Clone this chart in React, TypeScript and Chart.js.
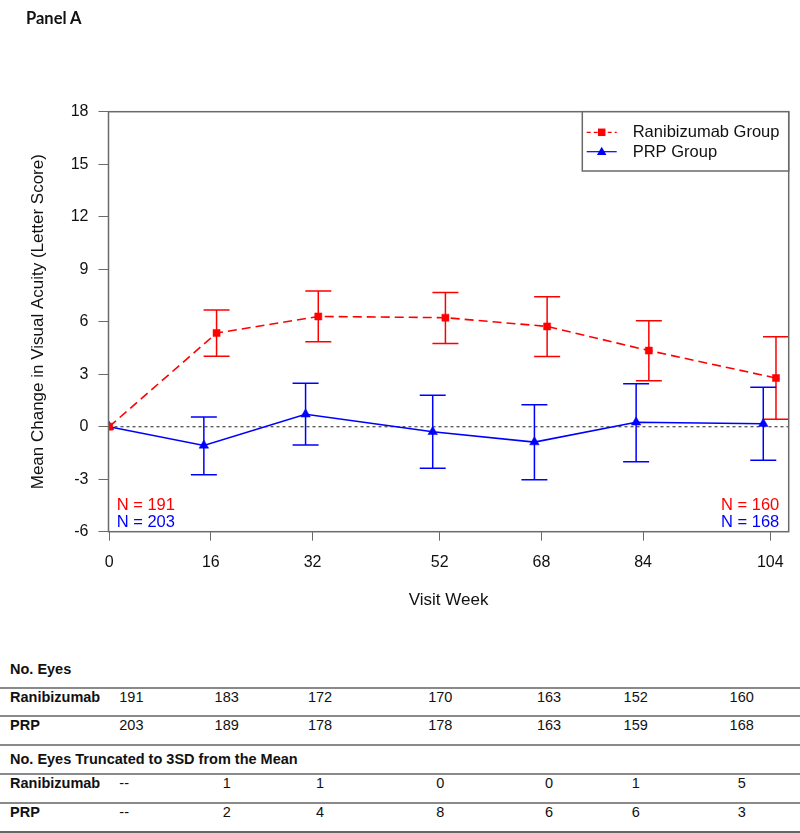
import React, { useEffect, useRef } from 'react';
import { Chart, registerables } from 'chart.js';

Chart.register(...registerables);

// ---------- data ----------
const weeks = [0, 16, 32, 52, 68, 84, 104];
const yTicks = [-6, -3, 0, 3, 6, 9, 12, 15, 18];

const ranMean = [0, 5.35, 6.3, 6.23, 5.73, 4.35, 2.78];
const ranUpper = [0, 6.67, 7.75, 7.67, 7.43, 6.05, 5.14];
const ranLower = [0, 4.03, 4.85, 4.75, 4.01, 2.62, 0.43];

const prpMean = [0, -1.07, 0.71, -0.29, -0.88, 0.25, 0.17];
const prpUpper = [0, 0.56, 2.49, 1.8, 1.26, 2.45, 2.26];
const prpLower = [0, -2.75, -1.05, -2.37, -3.03, -2.0, -1.92];

const ranN = [191, 183, 172, 170, 163, 152, 160];
const prpN = [203, 189, 178, 178, 163, 159, 168];
const ranTrunc: (number | null)[] = [null, 1, 1, 0, 0, 1, 5];
const prpTrunc: (number | null)[] = [null, 2, 4, 8, 6, 6, 3];

const seriesNames = ['Ranibizumab Group', 'PRP Group'];
const rowNames = ['Ranibizumab', 'PRP'];

// ---------- style / layout constants ----------
const FONT = "'Liberation Sans', Arial, Helvetica, sans-serif";
const RED = '#ff0000';
const BLUE = '#0000ff';
const AXIS = '#6a6a6a';
const RAN_DODGE = 0.9;
const PRP_DODGE = -1.1;
const CAP = 13;

const xOf = (w: number, d: number) => (w === 0 ? 0 : w + d);

function drawSquare(ctx: CanvasRenderingContext2D, x: number, y: number, s: number, c: string) {
  ctx.fillStyle = c;
  ctx.fillRect(x - s / 2, y - s / 2, s, s);
}
function drawTri(ctx: CanvasRenderingContext2D, x: number, y: number, r: number, c: string) {
  ctx.fillStyle = c;
  ctx.beginPath();
  ctx.moveTo(x, y - r);
  ctx.lineTo(x + r * 0.866, y + r * 0.5);
  ctx.lineTo(x - r * 0.866, y + r * 0.5);
  ctx.closePath();
  ctx.fill();
}

const overlay = {
  id: 'overlay',
  beforeDatasetsDraw(chart: any) {
    const { ctx, chartArea, scales } = chart;
    const { left, right } = chartArea;
    const x = scales.x;
    const y = scales.y;
    ctx.save();
    // zero reference line
    ctx.strokeStyle = '#555';
    ctx.lineWidth = 1.3;
    ctx.setLineDash([3, 3]);
    const y0 = y.getPixelForValue(0);
    ctx.beginPath();
    ctx.moveTo(left, y0);
    ctx.lineTo(right, y0);
    ctx.stroke();
    ctx.setLineDash([]);
    // error bars
    const bars = [
      { up: ranUpper, lo: ranLower, d: RAN_DODGE, c: RED },
      { up: prpUpper, lo: prpLower, d: PRP_DODGE, c: BLUE },
    ];
    bars.forEach((b) => {
      ctx.strokeStyle = b.c;
      ctx.lineWidth = 1.5;
      weeks.forEach((w, i) => {
        if (b.up[i] === b.lo[i]) return;
        const px = x.getPixelForValue(xOf(w, b.d));
        const pu = y.getPixelForValue(b.up[i]);
        const pl = y.getPixelForValue(b.lo[i]);
        ctx.beginPath();
        ctx.moveTo(px, pu);
        ctx.lineTo(px, pl);
        ctx.moveTo(px - CAP, pu);
        ctx.lineTo(px + CAP, pu);
        ctx.moveTo(px - CAP, pl);
        ctx.lineTo(px + CAP, pl);
        ctx.stroke();
      });
    });
    ctx.restore();
  },
  afterDraw(chart: any) {
    const { ctx, chartArea } = chart;
    const { left, right, top, bottom } = chartArea;
    ctx.save();
    // plot box
    ctx.strokeStyle = AXIS;
    ctx.lineWidth = 1.5;
    ctx.strokeRect(left, top, right - left, bottom - top);
    // legend
    const lx = right - 206.4;
    const lh = 59.3;
    ctx.fillStyle = '#fff';
    ctx.fillRect(lx, top, right - lx, lh);
    ctx.strokeRect(lx, top, right - lx, lh);
    const rows = [
      { y: top + 20.6, c: RED, dash: [4, 3], m: 'sq' },
      { y: top + 40, c: BLUE, dash: [], m: 'tri' },
    ];
    rows.forEach((r, i) => {
      ctx.strokeStyle = r.c;
      ctx.lineWidth = 1.2;
      ctx.setLineDash(r.dash);
      ctx.beginPath();
      ctx.moveTo(lx + 4.4, r.y);
      ctx.lineTo(lx + 34.4, r.y);
      ctx.stroke();
      ctx.setLineDash([]);
      if (r.m === 'sq') drawSquare(ctx, lx + 19.4, r.y, 7.5, r.c);
      else drawTri(ctx, lx + 19.4, r.y + 0.5, 5.5, r.c);
      ctx.fillStyle = '#111';
      ctx.font = `16.5px ${FONT}`;
      ctx.textAlign = 'left';
      ctx.textBaseline = 'middle';
      ctx.fillText(seriesNames[i], lx + 50.4, r.y + 0.5);
    });
    // N labels
    ctx.font = `16.5px ${FONT}`;
    ctx.textBaseline = 'middle';
    const last = weeks.length - 1;
    ctx.textAlign = 'left';
    ctx.fillStyle = RED;
    ctx.fillText(`N = ${ranN[0]}`, left + 8.2, bottom - 26.7);
    ctx.fillStyle = BLUE;
    ctx.fillText(`N = ${prpN[0]}`, left + 8.2, bottom - 9);
    ctx.textAlign = 'right';
    ctx.fillStyle = RED;
    ctx.fillText(`N = ${ranN[last]}`, right - 9.4, bottom - 26.7);
    ctx.fillStyle = BLUE;
    ctx.fillText(`N = ${prpN[last]}`, right - 9.4, bottom - 9);
    ctx.restore();
  },
};

// ---------- table layout ----------
const COLS = [119.3, 226.7, 320, 440.3, 549, 635.7, 741.7];
const LINE_YS = [687.7, 715.7, 745, 774, 803.3];

function Cell({ x, y, text, bold, align }: { x: number; y: number; text: string; bold?: boolean; align?: 'left' | 'center' }) {
  const style: React.CSSProperties = {
    position: 'absolute',
    top: y - 9,
    left: x,
    lineHeight: '18px',
    fontSize: 14.5,
    fontWeight: bold ? 700 : 400,
    whiteSpace: 'nowrap',
    color: '#111',
    transform: align === 'center' ? 'translateX(-50%)' : undefined,
  };
  return <div style={style}>{text}</div>;
}

function NumRow({ y, label, values }: { y: number; label: string; values: (number | null)[] }) {
  return (
    <>
      <Cell x={10} y={y} text={label} bold />
      {values.map((v, i) => (
        <Cell key={i} x={COLS[i]} y={y} text={v === null ? '--' : String(v)} align={i === 0 ? 'left' : 'center'} />
      ))}
    </>
  );
}

export default function App() {
  const ref = useRef<HTMLCanvasElement>(null);

  useEffect(() => {
    if (!ref.current) return;
    Chart.defaults.font.family = FONT;
    const chart = new Chart(ref.current, {
      type: 'scatter',
      data: {
        datasets: [
          {
            label: seriesNames[0],
            data: weeks.map((w, i) => ({ x: xOf(w, RAN_DODGE), y: ranMean[i] })),
            showLine: true,
            borderColor: RED,
            backgroundColor: RED,
            borderWidth: 1.6,
            borderDash: [9, 5],
            pointStyle: 'rect',
            pointRadius: 5,
            pointBorderWidth: 0.5,
            pointBackgroundColor: RED,
            pointBorderColor: RED,
          },
          {
            label: seriesNames[1],
            data: weeks.map((w, i) => ({ x: xOf(w, PRP_DODGE), y: prpMean[i] })),
            showLine: true,
            borderColor: BLUE,
            backgroundColor: BLUE,
            borderWidth: 1.6,
            pointStyle: 'triangle',
            pointRadius: 5.5,
            pointBorderWidth: 0.5,
            pointBackgroundColor: BLUE,
            pointBorderColor: BLUE,
          },
        ],
      },
      options: {
        responsive: false,
        devicePixelRatio: 1,
        animation: false,
        layout: { padding: { top: 111.7, right: 11.3, left: 0, bottom: 28.3 } },
        plugins: { legend: { display: false }, tooltip: { enabled: false } },
        scales: {
          x: {
            type: 'linear',
            min: -0.1,
            max: 106.9,
            afterBuildTicks: (s: any) => {
              s.ticks = weeks.map((v) => ({ value: v }));
            },
            afterFit: (s: any) => {
              s.height = 80;
            },
            grid: { drawOnChartArea: false, drawTicks: true, tickLength: 9, color: AXIS, lineWidth: 1 },
            border: { display: false },
            ticks: { font: { size: 16 }, color: '#111', padding: 12, maxRotation: 0, autoSkip: false },
            title: { display: true, text: 'Visit Week', font: { size: 17 }, color: '#111', padding: { top: 0, bottom: 1 } },
          },
          y: {
            min: -6,
            max: 18,
            afterBuildTicks: (s: any) => {
              s.ticks = yTicks.map((v) => ({ value: v }));
            },
            afterFit: (s: any) => {
              s.width = 108.5;
            },
            grid: { drawOnChartArea: false, drawTicks: true, tickLength: 10, color: AXIS, lineWidth: 1 },
            border: { display: false },
            ticks: { font: { size: 16 }, color: '#111', padding: 10 },
            title: {
              display: true,
              text: 'Mean Change in Visual Acuity (Letter Score)',
              font: { size: 17 },
              color: '#111',
              padding: { top: 28, bottom: 0 },
            },
          },
        },
      },
      plugins: [overlay],
    } as any);
    return () => chart.destroy();
  }, []);

  return (
    <div style={{ position: 'absolute', left: 0, top: 0, width: 800, height: 833, background: '#fff', fontFamily: FONT, overflow: 'hidden' }}>
      <canvas ref={ref} width={800} height={640} style={{ position: 'absolute', left: 0, top: 0, width: 800, height: 640 }} />
      <div style={{ position: 'absolute', left: 26, top: 8, fontFamily: 'Lato, sans-serif', fontWeight: 700, fontSize: 16.5, lineHeight: '20px', color: '#111' }}>
        Panel A
      </div>
      {LINE_YS.map((y, i) => (
        <div key={i} style={{ position: 'absolute', left: 0, width: 800, top: y - 1, height: 0, borderTop: '2px solid #8a8a8a' }} />
      ))}
      <div style={{ position: 'absolute', left: 0, width: 800, top: 830.5, height: 0, borderTop: '3px solid #666' }} />
      <Cell x={10} y={669.3} text="No. Eyes" bold />
      <NumRow y={697.3} label={rowNames[0]} values={ranN} />
      <NumRow y={725} label={rowNames[1]} values={prpN} />
      <Cell x={10} y={759} text="No. Eyes Truncated to 3SD from the Mean" bold />
      <NumRow y={783.3} label={rowNames[0]} values={ranTrunc} />
      <NumRow y={812.3} label={rowNames[1]} values={prpTrunc} />
    </div>
  );
}
